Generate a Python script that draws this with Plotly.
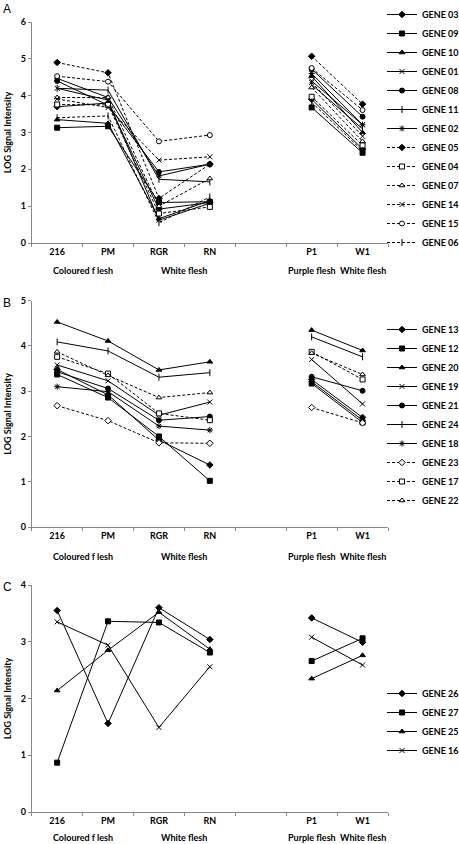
import plotly.graph_objects as go

categories = ["216", "PM", "RGR", "RN", " ", "P1", "W1"]
tick_labels = ["216", "PM", "RGR", "RN", "", "P1", "W1"]

# values at 216, PM, RGR, RN, P1, W1
genes_a = ["GENE 03", "GENE 09", "GENE 10", "GENE 01", "GENE 08", "GENE 11", "GENE 02",
           "GENE 05", "GENE 04", "GENE 07", "GENE 14", "GENE 15", "GENE 06"]
values_a = [
    [3.70, 3.80, 0.92, 1.10, 3.90, 2.55],
    [3.13, 3.17, 1.10, 1.12, 3.68, 2.45],
    [3.35, 3.25, 0.66, 1.15, 4.53, 3.00],
    [4.20, 3.88, 0.62, 1.08, 4.40, 3.21],
    [4.40, 3.74, 1.93, 2.14, 4.72, 3.43],
    [4.20, 4.15, 1.73, 1.66, 4.30, 3.10],
    [4.47, 3.95, 1.82, 2.14, 4.60, 3.21],
    [4.90, 4.62, 1.21, 2.14, 5.07, 3.77],
    [3.76, 3.75, 0.80, 0.98, 3.97, 2.65],
    [3.95, 3.95, 1.00, 1.75, 4.22, 2.76],
    [3.91, 3.68, 2.25, 2.34, 4.36, 2.90],
    [4.53, 4.38, 2.76, 2.93, 4.75, 3.61],
    [3.40, 3.45, 0.55, 1.25, 3.82, 2.50],
]

genes_b = ["GENE 13", "GENE 12", "GENE 20", "GENE 19", "GENE 21", "GENE 24", "GENE 18",
           "GENE 23", "GENE 17", "GENE 22"]
values_b = [
    [3.48, 2.92, 1.92, 1.37, 3.26, 2.42],
    [3.37, 2.86, 2.00, 1.02, 3.17, 2.31],
    [4.53, 4.11, 3.47, 3.65, 4.35, 3.90],
    [3.58, 3.23, 2.47, 2.76, 3.70, 2.72],
    [3.43, 3.06, 2.36, 2.44, 3.32, 3.01],
    [4.09, 3.89, 3.31, 3.41, 4.20, 3.76],
    [3.10, 2.99, 2.23, 2.14, 3.21, 2.36],
    [2.68, 2.35, 1.86, 1.85, 2.64, 2.30],
    [3.76, 3.39, 2.51, 2.36, 3.87, 3.26],
    [3.87, 3.35, 2.86, 2.97, 3.84, 3.37],
]

genes_c = ["GENE 26", "GENE 27", "GENE 25", "GENE 16"]
values_c = [
    [3.55, 1.56, 3.60, 3.04, 3.42, 2.99],
    [0.87, 3.36, 3.34, 2.81, 2.66, 3.06],
    [2.14, 2.85, 3.52, 2.87, 2.35, 2.76],
    [3.35, 2.94, 1.49, 2.56, 3.08, 2.59],
]

# style per gene: (symbol, filled, dashed)
styles_a = [("diamond", True, False), ("square", True, False), ("triangle-up", True, False),
            ("x-thin-open", False, False), ("circle", True, False), ("line-ns-open", False, False),
            ("asterisk-open", False, False), ("diamond", True, True), ("square", False, True),
            ("triangle-up", False, True), ("x-thin-open", False, True), ("circle", False, True),
            ("line-ns-open", False, True)]
styles_b = [("diamond", True, False), ("square", True, False), ("triangle-up", True, False),
            ("x-thin-open", False, False), ("circle", True, False), ("line-ns-open", False, False),
            ("asterisk-open", False, False), ("diamond", False, True), ("square", False, True),
            ("triangle-up", False, True)]
styles_c = [("diamond", True, False), ("square", True, False), ("triangle-up", True, False),
            ("x-thin-open", False, False)]

W, H = 459, 844
FONT = "Lato"

def py(px):
    return 1 - px / H

panels = [
    # (genes, values, styles, ytop_px, ybot_px, ymax, letter, legend_top_px, group_gap)
    (genes_a, values_a, styles_a, 22, 243, 6, "A", -12, 28),
    (genes_b, values_b, styles_b, 300.7, 527, 5, "B", 315, 29),
    (genes_c, values_c, styles_c, 585, 812, 4, "C", 679, 25),
]

fig = go.Figure()
annotations = []
layout = {}
for i, (genes, vals, styles, ytop, ybot, ymax, letter, legtop, ggap) in enumerate(panels):
    n = i + 1
    xa = "x" if n == 1 else f"x{n}"
    ya = "y" if n == 1 else f"y{n}"
    lg = "legend" if n == 1 else f"legend{n}"
    for g, v, (sym, filled, dashed) in zip(genes, vals, styles):
        y = [v[0], v[1], v[2], v[3], None, v[4], v[5]]
        open_sym = sym.endswith("-open")
        fig.add_trace(go.Scatter(
            x=categories, y=y, name=g, mode="lines+markers",
            connectgaps=False, xaxis=xa, yaxis=ya, legend=lg,
            line=dict(color="#000000", width=1, dash="3px,2px" if dashed else "solid"),
            marker=dict(symbol=sym, size=5,
                        color="#000000" if (filled or open_sym) else "#ffffff",
                        line=dict(color="#000000", width=1)),
        ))
    layout[("xaxis" if n == 1 else f"xaxis{n}")] = dict(
        domain=[31.7 / W, 388 / W], anchor=ya, type="category",
        categoryorder="array", categoryarray=categories,
        tickmode="array", tickvals=categories, ticktext=tick_labels,
        tickson="boundaries", ticks="outside", ticklen=3, tickcolor="#888888",
        showline=True, linecolor="#888888", linewidth=1, showgrid=False,
        zeroline=False, range=[-0.5, 6.5], automargin=False,
        tickfont=dict(family=FONT, size=9, color="#000000", weight="bold"),
    )
    layout[("yaxis" if n == 1 else f"yaxis{n}")] = dict(
        domain=[py(ybot), py(ytop)], anchor=xa, range=[0, ymax], dtick=1,
        ticks="outside", ticklen=3, tickcolor="#888888",
        showline=True, linecolor="#888888", linewidth=1, showgrid=False,
        zeroline=False, automargin=False,
        tickfont=dict(family=FONT, size=9, color="#000000", weight="bold"),
        title=dict(text="LOG Signal Intensity", standoff=7,
                   font=dict(family=FONT, size=9, color="#000000", weight="bold")),
    )
    layout[lg] = dict(
        xref="container", yref="container",
        x=382 / W, xanchor="left", y=py(legtop), yanchor="top",
        bgcolor="rgba(0,0,0,0)", borderwidth=0, itemwidth=30,
        font=dict(family=FONT, size=9, color="#000000", weight="bold"),
    )
    annotations.append(dict(text=letter, xref="paper", yref="paper", x=0.002,
                            y=1.0 if n == 1 else py(ytop - 7), xanchor="left",
                            yanchor="top", showarrow=False,
                            font=dict(family="Liberation Sans", size=12, color="#000000")))
    gy = py(ybot + ggap)
    for gx, gt in [(0.5, "Coloured f lesh"), (2.5, "White flesh"), (5, "Purple flesh"), (6, "White flesh")]:
        annotations.append(dict(text=gt, xref=xa, yref="paper", x=gx, y=gy,
                                xanchor="center", yanchor="middle", showarrow=False,
                                font=dict(family=FONT, size=9, color="#000000", weight="bold")))

fig.update_layout(
    width=W, height=H, margin=dict(l=0, r=0, t=0, b=0, autoexpand=False),
    paper_bgcolor="#ffffff", plot_bgcolor="#ffffff",
    showlegend=True, annotations=annotations, **layout,
)
fig.write_html("out.html", config={"displayModeBar": False},
               post_script="document.body.style.margin='0px';")
